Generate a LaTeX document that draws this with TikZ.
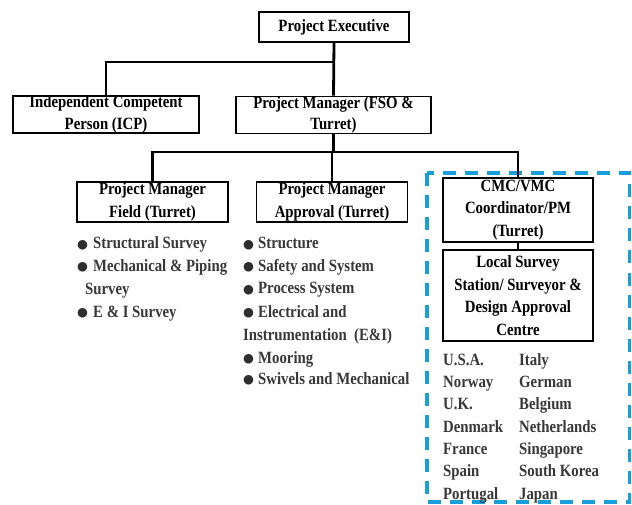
\documentclass[tikz,border=0pt]{standalone}
\usepackage{fontspec}
\setmainfont{Liberation Serif}[FakeStretch=0.86]
\newfontfamily\bulletfont{DejaVu Sans}
\begin{document}
\begin{tikzpicture}[x=1pt,y=-1pt,
  font=\fontsize{17.2}{22.5}\selectfont\bfseries,
  box/.style={draw=black,line width=1.8pt,inner sep=0pt,align=center,rectangle},
  conn/.style={line width=2.8pt,black},
  item/.style={anchor=base west,inner sep=0pt,text=black!78},
  bl/.style={anchor=base west,inner sep=0pt,text=black!82,font=\bulletfont\fontsize{12.5}{13}\selectfont}
]
\useasboundingbox (0,0) rectangle (632,505);
\fill[white] (0,0) rectangle (632,505);
% dashed group
\draw[line width=3.4pt,color={rgb,255:red,24;green,158;blue,218},dash pattern=on 13pt off 9pt] (427,173) rectangle (629.5,502);
% boxes
\node[box,minimum width=150pt,minimum height=30pt] (pe) at (334,27) {Project Executive};
\node[box,minimum width=186pt,minimum height=37pt] (icp) at (106,114.5) {Independent Competent\\[-1pt]Person (ICP)};
\node[box,minimum width=195pt,minimum height=36pt] (pmf) at (333.5,115) {Project Manager (FSO \&\\[-1pt]Turret)};
\node[box,minimum width=151pt,minimum height=40pt] (pmfield) at (152.5,202) {Project Manager\\Field (Turret)};
\node[box,minimum width=151pt,minimum height=40pt] (pma) at (332,202) {Project Manager\\Approval (Turret)};
\node[box,minimum width=150pt,minimum height=64pt] (cmc) at (518,210) {CMC/VMC\\Coordinator/PM\\(Turret)};
\node[box,minimum width=150pt,minimum height=91pt] (lss) at (518,295.5) {Local Survey\\Station/ Surveyor \&\\Design Approval\\Centre};
% connectors
\coordinate (bar1) at (0,62);
\coordinate (bar2) at (0,152);
\draw[conn] (pe.south) -- (pmf.north);
\draw[conn] (pe.south |- bar1) -| (icp.north);
\draw[conn] (pmf.south) -- (pmf.south |- bar2);
\draw[conn] (pmfield.north) |- (cmc.north |- bar2) -- (cmc.north);
\draw[conn] (pma.north) -- (pma.north |- bar2);
\draw[conn] (cmc.south) -- (lss.north);
% field list
\node[bl] (fb1) at (77,248) {●};
\node[item] (f1) at (93,249) {Structural Survey};
\node[bl] (fb2) at (77,271) {●};
\node[item] (f2) at (93,272) {Mechanical \& Piping};
\node[item] (f3) at (85,294.5) {Survey};
\node[bl] (fb4) at (77,316) {●};
\node[item] (f4) at (93,317) {E \& I Survey};
% approval list
\node[bl] (ab1) at (243,248) {●};
\node[item] (a1) at (258,249) {Structure};
\node[bl] (ab2) at (243,271) {●};
\node[item] (a2) at (258,272) {Safety and System};
\node[bl] (ab3) at (243,293) {●};
\node[item] (a3) at (258,294) {Process System};
\node[bl] (ab4) at (243,316) {●};
\node[item] (a4) at (258,317) {Electrical and};
\node[item] (a5) at (243,340) {Instrumentation\ \ (E\&I)};
\node[bl] (ab6) at (243,362) {●};
\node[item] (a6) at (258,363) {Mooring};
\node[bl] (ab7) at (243,383) {●};
\node[item] (a7) at (258,384) {Swivels and Mechanical};
% countries
\node[item] (c1) at (443,365) {U.S.A.};
\node[item] (c2) at (443,387) {Norway};
\node[item] (c3) at (443,409) {U.K.};
\node[item] (c4) at (443,432) {Denmark};
\node[item] (c5) at (443,454) {France};
\node[item] (c6) at (443,476) {Spain};
\node[item] (c7) at (443,499) {Portugal};
\node[item] (d1) at (519,365) {Italy};
\node[item] (d2) at (519,387) {German};
\node[item] (d3) at (519,409) {Belgium};
\node[item] (d4) at (519,432) {Netherlands};
\node[item] (d5) at (519,454) {Singapore};
\node[item] (d6) at (519,476) {South Korea};
\node[item] (d7) at (519,499) {Japan};
\end{tikzpicture}
\end{document}
